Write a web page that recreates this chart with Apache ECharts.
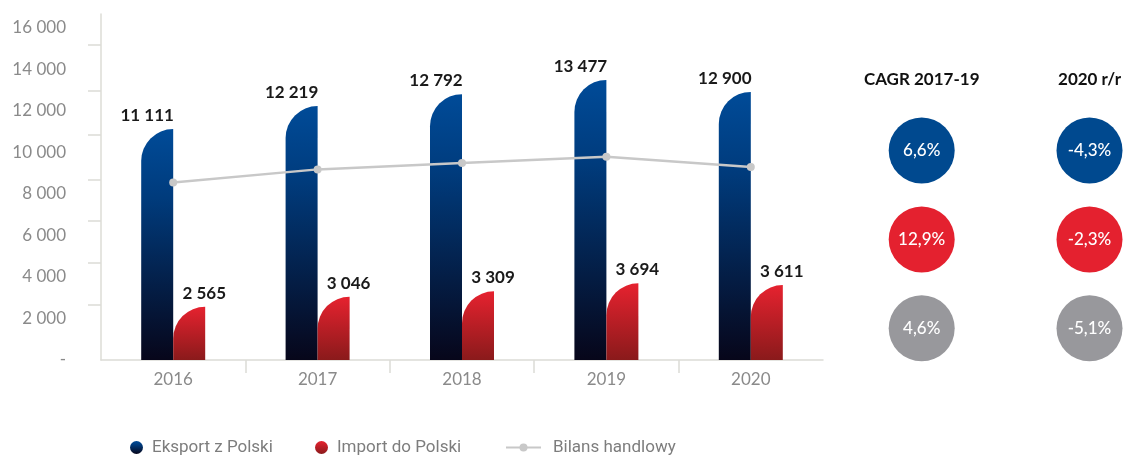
<!DOCTYPE html>
<html>
<head>
<meta charset="utf-8">
<script src="https://cdn.jsdelivr.net/npm/echarts@6/dist/echarts.min.js"></script>
<style>
  html, body { margin: 0; padding: 0; background: #fff; }
  #chart { width: 1127px; height: 457px; }
</style>
</head>
<body>
<div id="chart"></div>
<script>
let years    = ['2016', '2017', '2018', '2019', '2020'];
let eksport  = [11111, 12219, 12792, 13477, 12900];
let importPL = [2565, 3046, 3309, 3694, 3611];
let bilans   = [8546, 9173, 9483, 9783, 9289];
let yLabels  = [0, 2000, 4000, 6000, 8000, 10000, 12000, 14000, 16000];
// tick marks on the value axis sit off the labels in the original
let yTicks   = [2665, 4689, 6713, 8675, 10828, 12978, 15181];
// x ticks only between the years, none at the ends
let xTicks   = [1, 2, 3, 4];

let rateCols = ['CAGR 2017-19', '2020 r/r'];
let rateRows = ['Eksport', 'Import', 'Bilans'];
let cagr     = [6.6, 12.9, 4.6];
let yoy      = [-4.3, -2.3, -5.1];
let rowColors = ['#00498f', '#e4212f', '#98989c'];

let sp = v => String(v).replace(/\B(?=(\d{3})+(?!\d))/g, ' ');
let pct = v => String(v).replace('.', ',') + '%';

let grey = '#dcdcd6';
let font = 'Lato';

let blueGrad = new echarts.graphic.LinearGradient(0, 0, 0, 1, [
    {offset: 0, color: '#004b98'},
    {offset: 0.3, color: '#003b7c'},
    {offset: 1, color: '#07061a'}
]);
let redGrad = new echarts.graphic.LinearGradient(0, 0, 0, 1, [
    {offset: 0, color: '#e6222f'},
    {offset: 1, color: '#8a1a1b'}
]);

let legendBase = {
    orient: 'horizontal',
    top: 439,
    padding: 0,
    itemHeight: 13,
    selectedMode: false,
    textStyle: {fontFamily: 'Roboto', fontSize: 17, color: '#7d7d7d', padding: [0, 0, 0, 4]}
};

let rateSeries = rateRows.map((r, i) => ({
    name: 'rate-' + r,
    type: 'scatter',
    xAxisIndex: 1,
    yAxisIndex: 1,
    symbol: 'circle',
    symbolSize: 66,
    itemStyle: {color: rowColors[i], opacity: 1},
    label: {
        show: true,
        position: 'inside',
        color: '#fff',
        fontFamily: font,
        fontSize: 17,
        fontWeight: 500,
        formatter: p => pct(p.value[2])
    },
    data: [[0, i, cagr[i]], [1, i, yoy[i]]]
}));

let chart = echarts.init(document.getElementById('chart'), null, {renderer: 'canvas'});
chart.setOption({
    animation: false,
    backgroundColor: '#fff',
    legend: [
        Object.assign({}, legendBase, {left: 130, itemWidth: 13,
            data: [{name: 'Eksport z Polski', icon: 'circle'}]}),
        Object.assign({}, legendBase, {left: 315, itemWidth: 13,
            data: [{name: 'Import do Polski', icon: 'circle'}]}),
        Object.assign({}, legendBase, {left: 505, itemWidth: 35, itemHeight: 10,
            textStyle: Object.assign({}, legendBase.textStyle, {padding: [0, 0, 0, 7]}),
            data: [{name: 'Bilans handlowy'}]})
    ],
    grid: [
        {left: 101, right: 304, top: 14, bottom: 97},
        {left: 921.7, right: 37.5, top: 150.5, bottom: 128.7}
    ],
    xAxis: [
        {
            type: 'category',
            data: years,
            gridIndex: 0,
            axisLine: {lineStyle: {color: grey, width: 1.5}},
            axisTick: {show: false},
            axisLabel: {color: '#8a8a8a', fontFamily: font, fontSize: 17, margin: 11}
        },
        {
            type: 'category',
            data: rateCols,
            gridIndex: 1,
            position: 'top',
            boundaryGap: false,
            axisLine: {show: false},
            axisTick: {show: false},
            axisLabel: {color: '#111', fontFamily: font, fontSize: 17, fontWeight: 'bold', margin: 62}
        },
        {
            type: 'value',
            gridIndex: 0,
            position: 'bottom',
            min: 0,
            max: years.length,
            splitLine: {show: false},
            axisLine: {show: false},
            axisLabel: {show: false},
            axisTick: {show: true, length: 13, customValues: xTicks, lineStyle: {color: grey, width: 1.5}}
        }
    ],
    yAxis: [
        {
            type: 'value',
            gridIndex: 0,
            min: 0,
            max: 16650,
            splitLine: {show: false},
            axisLine: {show: true, lineStyle: {color: grey, width: 1.5}},
            axisTick: {show: true, length: 13, customValues: yTicks, lineStyle: {color: grey, width: 1.5}},
            axisLabel: {
                customValues: yLabels,
                color: '#8a8a8a', fontFamily: font, fontSize: 17, margin: 35,
                formatter: v => v === 0 ? '-' : sp(v)
            }
        },
        {
            type: 'category',
            data: rateRows,
            gridIndex: 1,
            inverse: true,
            boundaryGap: false,
            show: false
        }
    ],
    series: [
        {
            name: 'Eksport z Polski',
            type: 'bar',
            barWidth: 32,
            barGap: '0%',
            itemStyle: {color: blueGrad, borderRadius: [32, 0, 0, 0]},
            label: {
                show: true, position: 'top', offset: [-10, 0],
                color: '#1a1a1a', fontFamily: font, fontSize: 17, fontWeight: 'bold',
                formatter: p => sp(p.value)
            },
            data: eksport
        },
        {
            name: 'Import do Polski',
            type: 'bar',
            barWidth: 32,
            barGap: '0%',
            itemStyle: {color: redGrad, borderRadius: [32, 0, 0, 0]},
            label: {
                show: true, position: 'top', offset: [15, 0],
                color: '#1a1a1a', fontFamily: font, fontSize: 17, fontWeight: 'bold',
                formatter: p => sp(p.value)
            },
            data: importPL
        },
        {
            name: 'Bilans handlowy',
            type: 'line',
            z: 5,
            symbol: 'circle',
            symbolSize: 8,
            itemStyle: {color: '#c8c8c8'},
            lineStyle: {color: '#c8c8c8', width: 2.5},
            data: bilans
        }
    ].concat(rateSeries)
});
</script>
</body>
</html>
